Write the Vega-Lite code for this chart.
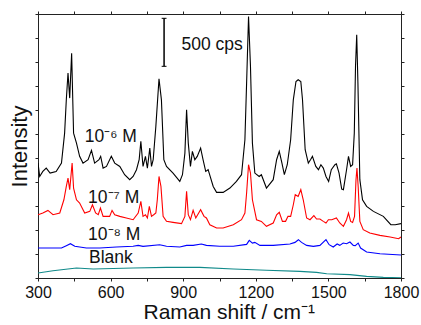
{
  "$schema": "https://vega.github.io/schema/vega-lite/v6.json",
  "autosize": "none",
  "width": 363,
  "height": 264,
  "padding": {"left": 38, "top": 14, "right": 20, "bottom": 47},
  "config": {
    "view": {"stroke": "#222", "strokeWidth": 1},
    "font": "Liberation Sans",
    "axis": {"grid": false, "domainColor": "#222", "tickColor": "#222", "labelColor": "#111", "titleColor": "#111", "labelFont": "Liberation Sans", "titleFont": "Liberation Sans", "titleFontWeight": "normal"}
  },
  "datasets": {
    "spectra": [
      {"s":"b","x":300,"y":1197},{"s":"b","x":307,"y":1058},{"s":"b","x":320,"y":1110},{"s":"b","x":334,"y":1145},{"s":"b","x":350,"y":1093},{"s":"b","x":375,"y":1110},{"s":"b","x":397,"y":1197},{"s":"b","x":410,"y":1509},{"s":"b","x":417,"y":1856},{"s":"b","x":424,"y":2134},{"s":"b","x":431,"y":1874},{"s":"b","x":439,"y":2342},{"s":"b","x":447,"y":1509},{"s":"b","x":459,"y":1405},{"s":"b","x":472,"y":1267},{"s":"b","x":486,"y":1197},{"s":"b","x":507,"y":1232},{"s":"b","x":521,"y":1329},{"s":"b","x":534,"y":1197},{"s":"b","x":552,"y":1232},{"s":"b","x":559,"y":1267},{"s":"b","x":569,"y":1145},{"s":"b","x":583,"y":1162},{"s":"b","x":603,"y":1267},{"s":"b","x":617,"y":1197},{"s":"b","x":638,"y":1162},{"s":"b","x":658,"y":1076},{"s":"b","x":679,"y":1024},{"s":"b","x":693,"y":1058},{"s":"b","x":707,"y":1128},{"s":"b","x":718,"y":1232},{"s":"b","x":725,"y":1423},{"s":"b","x":734,"y":1162},{"s":"b","x":744,"y":1267},{"s":"b","x":752,"y":1145},{"s":"b","x":762,"y":1353},{"s":"b","x":769,"y":1162},{"s":"b","x":776,"y":1232},{"s":"b","x":787,"y":1579},{"s":"b","x":800,"y":2075},{"s":"b","x":810,"y":1856},{"s":"b","x":820,"y":1232},{"s":"b","x":831,"y":1162},{"s":"b","x":858,"y":1093},{"s":"b","x":886,"y":1006},{"s":"b","x":897,"y":1076},{"s":"b","x":907,"y":1301},{"s":"b","x":914,"y":1752},{"s":"b","x":921,"y":1405},{"s":"b","x":930,"y":1162},{"s":"b","x":938,"y":1319},{"s":"b","x":948,"y":1232},{"s":"b","x":958,"y":1267},{"s":"b","x":972,"y":1353},{"s":"b","x":982,"y":1232},{"s":"b","x":993,"y":1110},{"s":"b","x":1003,"y":1128},{"s":"b","x":1024,"y":954},{"s":"b","x":1038,"y":892},{"s":"b","x":1065,"y":892},{"s":"b","x":1093,"y":937},{"s":"b","x":1120,"y":1006},{"s":"b","x":1141,"y":1076},{"s":"b","x":1155,"y":1440},{"s":"b","x":1162,"y":2030},{"s":"b","x":1170,"y":2724},{"s":"b","x":1178,"y":2203},{"s":"b","x":1186,"y":1405},{"s":"b","x":1196,"y":1093},{"s":"b","x":1214,"y":1058},{"s":"b","x":1223,"y":1076},{"s":"b","x":1244,"y":937},{"s":"b","x":1272,"y":1024},{"s":"b","x":1286,"y":1232},{"s":"b","x":1297,"y":1319},{"s":"b","x":1308,"y":1197},{"s":"b","x":1318,"y":1076},{"s":"b","x":1330,"y":1180},{"s":"b","x":1344,"y":1440},{"s":"b","x":1355,"y":1856},{"s":"b","x":1366,"y":2047},{"s":"b","x":1375,"y":2065},{"s":"b","x":1386,"y":2047},{"s":"b","x":1393,"y":1856},{"s":"b","x":1404,"y":1336},{"s":"b","x":1417,"y":1197},{"s":"b","x":1426,"y":1232},{"s":"b","x":1434,"y":1267},{"s":"b","x":1448,"y":1162},{"s":"b","x":1459,"y":1128},{"s":"b","x":1469,"y":1180},{"s":"b","x":1479,"y":1145},{"s":"b","x":1490,"y":1058},{"s":"b","x":1501,"y":1006},{"s":"b","x":1512,"y":1128},{"s":"b","x":1527,"y":1180},{"s":"b","x":1533,"y":1190},{"s":"b","x":1544,"y":1093},{"s":"b","x":1555,"y":926},{"s":"b","x":1562,"y":920},{"s":"b","x":1575,"y":1128},{"s":"b","x":1583,"y":1267},{"s":"b","x":1592,"y":1162},{"s":"b","x":1600,"y":1180},{"s":"b","x":1607,"y":1509},{"s":"b","x":1612,"y":2203},{"s":"b","x":1617,"y":2533},{"s":"b","x":1622,"y":2030},{"s":"b","x":1630,"y":1024},{"s":"b","x":1641,"y":815},{"s":"b","x":1658,"y":746},{"s":"b","x":1686,"y":694},{"s":"b","x":1727,"y":642},{"s":"b","x":1758,"y":555},{"s":"b","x":1776,"y":555},{"s":"b","x":1800,"y":566},
      {"s":"r","x":300,"y":659},{"s":"r","x":320,"y":677},{"s":"r","x":341,"y":704},{"s":"r","x":362,"y":659},{"s":"r","x":390,"y":677},{"s":"r","x":407,"y":815},{"s":"r","x":417,"y":954},{"s":"r","x":424,"y":1041},{"s":"r","x":431,"y":920},{"s":"r","x":441,"y":1197},{"s":"r","x":447,"y":937},{"s":"r","x":459,"y":815},{"s":"r","x":472,"y":781},{"s":"r","x":493,"y":677},{"s":"r","x":514,"y":694},{"s":"r","x":525,"y":763},{"s":"r","x":538,"y":677},{"s":"r","x":549,"y":659},{"s":"r","x":558,"y":729},{"s":"r","x":569,"y":642},{"s":"r","x":596,"y":642},{"s":"r","x":606,"y":704},{"s":"r","x":617,"y":659},{"s":"r","x":638,"y":642},{"s":"r","x":665,"y":625},{"s":"r","x":693,"y":607},{"s":"r","x":714,"y":677},{"s":"r","x":725,"y":798},{"s":"r","x":734,"y":642},{"s":"r","x":744,"y":659},{"s":"r","x":752,"y":625},{"s":"r","x":760,"y":746},{"s":"r","x":769,"y":642},{"s":"r","x":778,"y":659},{"s":"r","x":787,"y":677},{"s":"r","x":793,"y":815},{"s":"r","x":800,"y":1058},{"s":"r","x":808,"y":954},{"s":"r","x":817,"y":642},{"s":"r","x":831,"y":590},{"s":"r","x":858,"y":579},{"s":"r","x":893,"y":566},{"s":"r","x":907,"y":642},{"s":"r","x":914,"y":902},{"s":"r","x":921,"y":659},{"s":"r","x":930,"y":607},{"s":"r","x":941,"y":704},{"s":"r","x":952,"y":625},{"s":"r","x":972,"y":711},{"s":"r","x":986,"y":642},{"s":"r","x":996,"y":625},{"s":"r","x":1010,"y":555},{"s":"r","x":1038,"y":521},{"s":"r","x":1065,"y":521},{"s":"r","x":1107,"y":555},{"s":"r","x":1141,"y":607},{"s":"r","x":1155,"y":677},{"s":"r","x":1162,"y":885},{"s":"r","x":1170,"y":1180},{"s":"r","x":1178,"y":1093},{"s":"r","x":1186,"y":815},{"s":"r","x":1203,"y":607},{"s":"r","x":1223,"y":590},{"s":"r","x":1244,"y":538},{"s":"r","x":1272,"y":573},{"s":"r","x":1286,"y":659},{"s":"r","x":1297,"y":684},{"s":"r","x":1310,"y":590},{"s":"r","x":1323,"y":590},{"s":"r","x":1333,"y":642},{"s":"r","x":1344,"y":642},{"s":"r","x":1355,"y":763},{"s":"r","x":1363,"y":868},{"s":"r","x":1375,"y":850},{"s":"r","x":1386,"y":920},{"s":"r","x":1396,"y":815},{"s":"r","x":1410,"y":625},{"s":"r","x":1424,"y":607},{"s":"r","x":1440,"y":649},{"s":"r","x":1451,"y":614},{"s":"r","x":1465,"y":614},{"s":"r","x":1479,"y":590},{"s":"r","x":1490,"y":573},{"s":"r","x":1500,"y":607},{"s":"r","x":1514,"y":607},{"s":"r","x":1533,"y":625},{"s":"r","x":1547,"y":573},{"s":"r","x":1562,"y":538},{"s":"r","x":1575,"y":607},{"s":"r","x":1583,"y":677},{"s":"r","x":1592,"y":590},{"s":"r","x":1600,"y":579},{"s":"r","x":1608,"y":642},{"s":"r","x":1614,"y":1024},{"s":"r","x":1618,"y":1145},{"s":"r","x":1623,"y":954},{"s":"r","x":1630,"y":590},{"s":"r","x":1644,"y":503},{"s":"r","x":1671,"y":468},{"s":"r","x":1713,"y":444},{"s":"r","x":1755,"y":427},{"s":"r","x":1790,"y":409},{"s":"r","x":1800,"y":427},
      {"s":"u","x":300,"y":312},{"s":"u","x":348,"y":312},{"s":"u","x":397,"y":312},{"s":"u","x":417,"y":337},{"s":"u","x":434,"y":357},{"s":"u","x":452,"y":330},{"s":"u","x":500,"y":312},{"s":"u","x":555,"y":312},{"s":"u","x":624,"y":323},{"s":"u","x":693,"y":330},{"s":"u","x":714,"y":340},{"s":"u","x":734,"y":330},{"s":"u","x":803,"y":347},{"s":"u","x":831,"y":330},{"s":"u","x":886,"y":323},{"s":"u","x":914,"y":340},{"s":"u","x":941,"y":340},{"s":"u","x":975,"y":354},{"s":"u","x":996,"y":340},{"s":"u","x":1051,"y":330},{"s":"u","x":1107,"y":330},{"s":"u","x":1162,"y":350},{"s":"u","x":1173,"y":392},{"s":"u","x":1186,"y":364},{"s":"u","x":1196,"y":371},{"s":"u","x":1217,"y":340},{"s":"u","x":1272,"y":340},{"s":"u","x":1341,"y":354},{"s":"u","x":1362,"y":371},{"s":"u","x":1376,"y":399},{"s":"u","x":1389,"y":371},{"s":"u","x":1410,"y":340},{"s":"u","x":1438,"y":330},{"s":"u","x":1465,"y":340},{"s":"u","x":1490,"y":399},{"s":"u","x":1503,"y":347},{"s":"u","x":1520,"y":323},{"s":"u","x":1536,"y":354},{"s":"u","x":1547,"y":340},{"s":"u","x":1561,"y":364},{"s":"u","x":1575,"y":357},{"s":"u","x":1589,"y":375},{"s":"u","x":1603,"y":340},{"s":"u","x":1611,"y":337},{"s":"u","x":1623,"y":364},{"s":"u","x":1633,"y":312},{"s":"u","x":1658,"y":271},{"s":"u","x":1713,"y":253},{"s":"u","x":1800,"y":239},
      {"s":"t","x":300,"y":52},{"s":"t","x":362,"y":76},{"s":"t","x":459,"y":104},{"s":"t","x":528,"y":94},{"s":"t","x":693,"y":104},{"s":"t","x":831,"y":111},{"s":"t","x":969,"y":111},{"s":"t","x":1107,"y":94},{"s":"t","x":1244,"y":80},{"s":"t","x":1382,"y":69},{"s":"t","x":1451,"y":59},{"s":"t","x":1493,"y":45},{"s":"t","x":1589,"y":35},{"s":"t","x":1658,"y":17},{"s":"t","x":1727,"y":7},{"s":"t","x":1800,"y":3}
    ],
    "labels": [
      {"x":493,"y":1412,"text":"10⁻⁶ M"},
      {"x":507,"y":781,"text":"10⁻⁷ M"},
      {"x":507,"y":392,"text":"10⁻⁸ M"},
      {"x":511,"y":156,"text":"Blank"},
      {"x":893,"y":2377,"text":"500 cps"}
    ],
    "bar": [{"x":821,"y":2205,"y2":2705}],
    "caps": [{"x":811,"x2":831,"y":2205},{"x":811,"x2":831,"y":2705}]
  },
  "layer": [
    {
      "data": {"name": "spectra"},
      "mark": {"type": "line", "strokeWidth": 1.1, "clip": true},
      "encoding": {
        "x": {"field": "x", "type": "quantitative", "scale": {"domain": [300, 1800], "nice": false, "zero": false},
          "axis": {"title": "Raman shift / cm⁻¹", "titleFontSize": 21, "titlePadding": 1, "titleAnchor": "start", "titleAlign": "left", "titleX": 105, "labelFontSize": 16, "labelPadding": 3, "tickSize": 3, "values": [300,450,600,750,900,1050,1200,1350,1500,1650,1800], "format": "d", "labelExpr": "datum.value % 300 == 0 ? datum.label : ''", "labelFlush": false, "labelOverlap": false}},
        "y": {"field": "y", "type": "quantitative", "scale": {"domain": [0, 2750], "nice": false},
          "axis": {"title": "Intensity", "titleFontSize": 22, "titlePadding": 3, "labels": false, "tickSize": 3, "values": [0,250,500,750,1000,1250,1500,1750,2000,2250,2500,2750]}},
        "color": {"field": "s", "type": "nominal", "legend": null, "scale": {"domain": ["b","r","u","t"], "range": ["#000000","#ff0000","#0000ff","#108a8a"]}}
      }
    },
    {
      "data": {"name": "bar"},
      "mark": {"type": "rule", "color": "#000", "strokeWidth": 1.5},
      "encoding": {
        "x": {"field": "x", "type": "quantitative", "axis": {"orient": "top", "labels": false, "title": null, "tickSize": 3, "values": [300,450,600,750,900,1050,1200,1350,1500,1650,1800]}},
        "y": {"field": "y", "type": "quantitative", "axis": {"orient": "right", "labels": false, "title": null, "tickSize": 3, "values": [0,250,500,750,1000,1250,1500,1750,2000,2250,2500,2750]}},
        "y2": {"field": "y2"}
      }
    },
    {
      "data": {"name": "caps"},
      "mark": {"type": "rule", "color": "#000", "strokeWidth": 1},
      "encoding": {
        "x": {"field": "x", "type": "quantitative", "axis": null},
        "x2": {"field": "x2"},
        "y": {"field": "y", "type": "quantitative", "axis": null}
      }
    },
    {
      "data": {"name": "labels"},
      "mark": {"type": "text", "align": "left", "baseline": "alphabetic", "fontSize": 17.5, "font": "Liberation Sans", "color": "#111"},
      "encoding": {
        "x": {"field": "x", "type": "quantitative", "axis": null},
        "y": {"field": "y", "type": "quantitative", "axis": null},
        "text": {"field": "text"}
      }
    }
  ],
  "resolve": {"axis": {"x": "independent", "y": "independent"}}
}
